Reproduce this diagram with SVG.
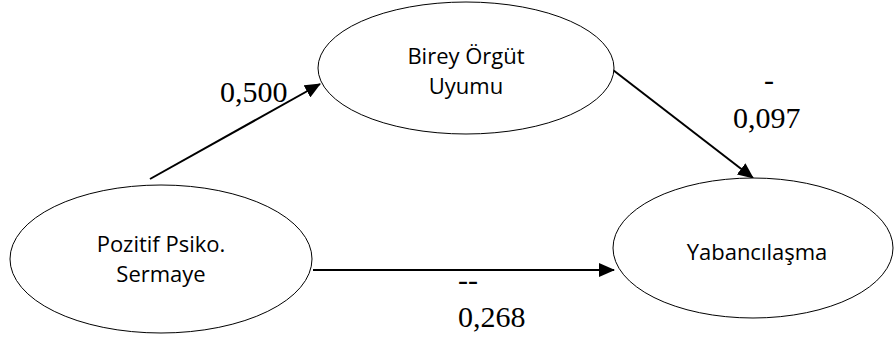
<svg xmlns="http://www.w3.org/2000/svg" width="896" height="337" viewBox="0 0 896 337">
<defs>
<style>
.node ellipse{fill:#fff;stroke:#000;stroke-width:1}
.node text{font-family:"Open Sans","Noto Sans",sans-serif;font-size:22px;fill:#000;text-anchor:middle}
.edge{stroke:#000;stroke-width:2;fill:none;marker-end:url(#ah)}
.lbl{font-family:"Liberation Serif","Times New Roman",serif;font-size:30px;fill:#000}
</style>
<marker id="ah" markerWidth="8" markerHeight="7" refX="7.5" refY="3.5" orient="auto" markerUnits="strokeWidth">
<path d="M0,0 L8,3.5 L0,7 Z" fill="#000"/>
</marker>
</defs>
<rect width="896" height="337" fill="#fff"/>
<g id="connectors">
<line class="edge" x1="150" y1="179" x2="320" y2="84"/>
<line class="edge" x1="613" y1="70" x2="753" y2="178"/>
<line class="edge" x1="313" y1="270" x2="614" y2="270"/>
</g>
<g id="node-pozitif" class="node">
<ellipse cx="161" cy="259" rx="151" ry="74"/>
<text x="161" y="252">Pozitif Psiko.</text>
<text x="161" y="282">Sermaye</text>
</g>
<g id="node-birey" class="node">
<ellipse cx="466" cy="68" rx="148" ry="66"/>
<text x="466" y="64">Birey Örgüt</text>
<text x="466" y="94">Uyumu</text>
</g>
<g id="node-yabanci" class="node">
<ellipse cx="753" cy="248" rx="140" ry="70"/>
<text x="757" y="260">Yabancılaşma</text>
</g>
<g id="labels">
<text class="lbl" x="220" y="102">0,500</text>
<text class="lbl" x="764" y="90">-</text>
<text class="lbl" x="733" y="128">0,097</text>
<text class="lbl" x="458" y="290">--</text>
<text class="lbl" x="458" y="327">0,268</text>
</g>
</svg>
